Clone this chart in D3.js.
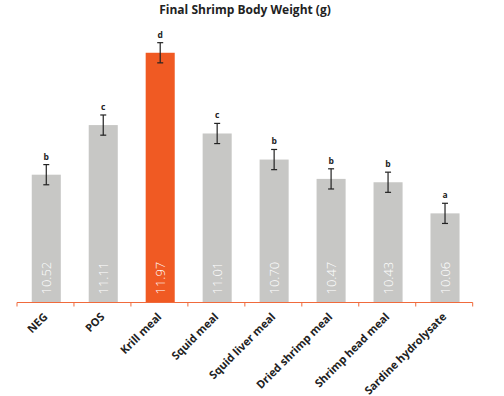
<!DOCTYPE html>
<html><head><meta charset="utf-8">
<script src="https://cdn.jsdelivr.net/npm/d3@7"></script>
<style>
html,body{margin:0;padding:0;background:#fff;}
svg{display:block;font-family:"Open Sans",Lato,sans-serif;}
</style></head><body>
<svg id="chart" width="504" height="396"></svg>
<script>
const categories = ["NEG","POS","Krill meal","Squid meal","Squid liver meal","Dried shrimp meal","Shrimp head meal","Sardine hydrolysate"];
const values = [10.52, 11.11, 11.97, 11.01, 10.70, 10.47, 10.43, 10.06];
const errors = [0.12, 0.12, 0.12, 0.12, 0.12, 0.12, 0.12, 0.12];
const letters = ["b","c","d","c","b","b","b","a"];
const highlight = "Krill meal";
const yDomain = [9, 12.5];
const title = "Final Shrimp Body Weight (g)";

const svg = d3.select("#chart");
const x = d3.scaleBand().domain(categories).range([17, 472.7]).paddingInner(0.49).paddingOuter(0.245);
const y = d3.scaleLinear().domain(yDomain).range([302.5, 8.2]);

svg.append("text").attr("x", 245).attr("y", 14).attr("text-anchor","middle")
  .attr("font-size", 12).attr("font-weight", 700).attr("fill", "#222").text(title);

const g = svg.append("g");
g.selectAll("rect.bar").data(categories).join("rect").attr("class","bar")
  .attr("x", d => x(d) + 0.8).attr("width", x.bandwidth())
  .attr("y", (d,i) => y(values[i])).attr("height", (d,i) => y(yDomain[0]) - y(values[i]))
  .attr("fill", d => d === highlight ? "#f05a23" : "#c7c7c5");

const cx = d => x(d) + 0.8 + x.bandwidth()/2;

// value labels
g.selectAll("text.val").data(categories).join("text").attr("class","val")
  .attr("transform", d => `translate(${cx(d)+4.5},${y(yDomain[0])-8}) rotate(-90)`)
  .attr("font-size", 13).attr("font-weight", 300).attr("fill", "#fff").text((d,i) => values[i].toFixed(2));

// error bars
const eb = g.selectAll("g.err").data(categories).join("g").attr("class","err")
  .attr("stroke", "#222").attr("stroke-width", 1.2);
eb.append("line").attr("x1", cx).attr("x2", cx)
  .attr("y1", (d,i) => y(values[i]+errors[i])).attr("y2", (d,i) => y(values[i]-errors[i]));
eb.append("line").attr("x1", d => cx(d)-3).attr("x2", d => cx(d)+3)
  .attr("y1", (d,i) => y(values[i]+errors[i])).attr("y2", (d,i) => y(values[i]+errors[i]));
eb.append("line").attr("x1", d => cx(d)-3).attr("x2", d => cx(d)+3)
  .attr("y1", (d,i) => y(values[i]-errors[i])).attr("y2", (d,i) => y(values[i]-errors[i]));

g.selectAll("text.let").data(categories).join("text").attr("class","let")
  .attr("x", cx).attr("y", (d,i) => y(values[i]+errors[i]) - 5)
  .attr("text-anchor","middle").attr("font-size", 8.5).attr("font-weight", 700).attr("fill","#222")
  .text((d,i) => letters[i]);

// x axis
const ax = svg.append("g").attr("transform", `translate(0,${y(yDomain[0])})`);
ax.append("line").attr("x1", x.range()[0]).attr("x2", x.range()[1]).attr("stroke", "#f06a3c").attr("stroke-width", 1.2);
const edges = d3.range(categories.length + 1).map(i => x.range()[0] + i * (x.range()[1]-x.range()[0]) / categories.length);
ax.selectAll("line.tk").data(edges).join("line").attr("class","tk")
  .attr("x1", d => d).attr("x2", d => d).attr("y1", 0).attr("y2", 4).attr("stroke", "#f06a3c").attr("stroke-width", 1);
ax.selectAll("text.cat").data(categories).join("text").attr("class","cat")
  .attr("transform", d => `translate(${cx(d)+2},${15}) rotate(-45)`)
  .attr("text-anchor","end").attr("font-size", 11).attr("font-weight", 700).attr("fill","#222").text(d => d);
</script></body></html>
